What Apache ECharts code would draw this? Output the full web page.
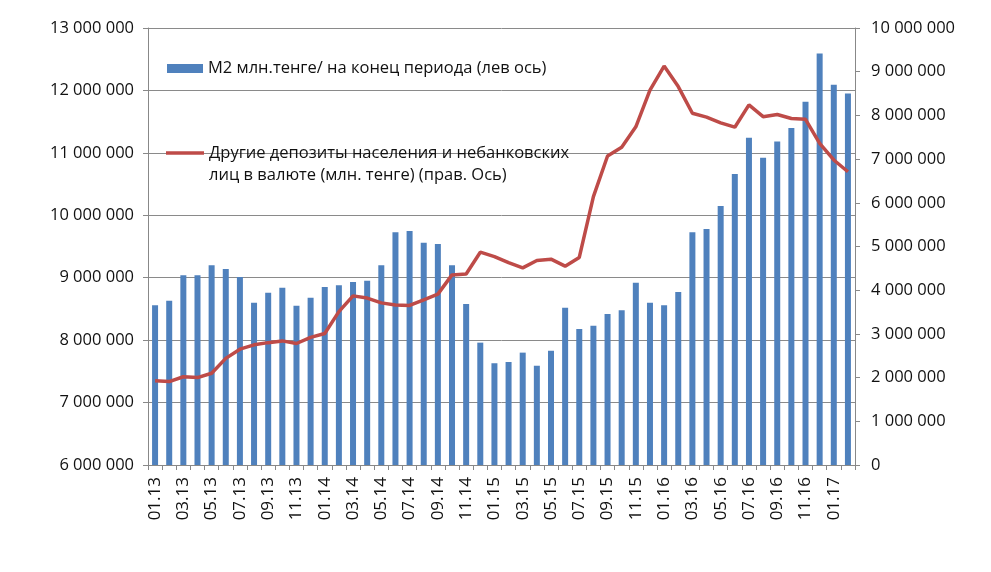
<!DOCTYPE html>
<html>
<head>
<meta charset="utf-8">
<script src="https://cdn.jsdelivr.net/npm/echarts@6/dist/echarts.min.js"></script>
<style>html,body{margin:0;padding:0;background:#fff;}#c{width:991px;height:572px;}</style>
</head>
<body>
<div id="c"></div>
<script>
const categories = ['01.13','02.13','03.13','04.13','05.13','06.13','07.13','08.13','09.13','10.13','11.13','12.13',
  '01.14','02.14','03.14','04.14','05.14','06.14','07.14','08.14','09.14','10.14','11.14','12.14',
  '01.15','02.15','03.15','04.15','05.15','06.15','07.15','08.15','09.15','10.15','11.15','12.15',
  '01.16','02.16','03.16','04.16','05.16','06.16','07.16','08.16','09.16','10.16','11.16','12.16',
  '01.17','02.17'];
const m2Values = [8560000,8630000,9040000,9040000,9200000,9140000,9010000,8600000,8760000,8840000,8550000,8680000,
  8850000,8880000,8930000,8950000,9200000,9730000,9750000,9560000,9540000,9200000,8580000,7960000,
  7630000,7650000,7800000,7590000,7830000,8520000,8180000,8230000,8420000,8480000,8920000,8600000,
  8560000,8770000,9730000,9780000,10150000,10660000,11240000,10920000,11180000,11400000,11820000,12590000,
  12090000,11950000];
const depositValues = [1930000,1910000,2020000,2000000,2100000,2440000,2650000,2750000,2800000,2840000,2780000,2920000,
  3010000,3510000,3870000,3820000,3710000,3660000,3650000,3780000,3910000,4350000,4370000,4870000,
  4770000,4630000,4510000,4680000,4710000,4550000,4750000,6140000,7070000,7270000,7740000,8580000,
  9130000,8660000,8050000,7960000,7830000,7730000,8240000,7970000,8020000,7930000,7910000,7360000,
  6980000,6710000];
const seriesNames = ['M2 млн.тенге/ на конец периода (лев ось)',
  'Другие депозиты населения и небанковских\nлиц в валюте (млн. тенге) (прав. Ось)'];

const FONT = 'Open Sans';
const fmt = v => String(v).replace(/\B(?=(\d{3})+(?!\d))/g, ' ');
const chart = echarts.init(document.getElementById('c'));
chart.setOption({
  backgroundColor: '#fff',
  animation: false,
  textStyle: { fontFamily: FONT },
  grid: { left: 148, right: 136, top: 28, bottom: 107 },
  legend: [
    { left: 167, top: 60, padding: 0, itemWidth: 36, itemHeight: 9, itemGap: 4,
      data: [{ name: seriesNames[0], icon: 'rect' }],
      textStyle: { fontFamily: FONT, fontSize: 16.5, color: '#111' } },
    { left: 166, top: 120, padding: 0, itemWidth: 38, itemHeight: 16,
      data: [{ name: seriesNames[1], icon: 'path://M0,6.2 L38,6.2 L38,9.8 L0,9.8 Z' }],
      formatter: name => ' \n' + name,
      textStyle: { fontFamily: FONT, fontSize: 16.5, color: '#111', lineHeight: 22 } }
  ],
  xAxis: {
    type: 'category', data: categories,
    axisLine: { lineStyle: { color: '#888' } },
    axisTick: { show: true, interval: 0, length: 5, lineStyle: { color: '#888' } },
    axisLabel: { interval: 1, rotate: 90, margin: 12, fontSize: 17, color: '#111', fontFamily: FONT }
  },
  yAxis: [
    { type: 'value', min: 6000000, max: 13000000, interval: 1000000,
      axisLine: { show: true, lineStyle: { color: '#888' } },
      axisTick: { show: true, length: 5, lineStyle: { color: '#888' } },
      splitLine: { lineStyle: { color: '#8a8a8a', width: 1 } },
      axisLabel: { formatter: fmt, fontSize: 16.5, color: '#111', margin: 14, fontFamily: FONT } },
    { type: 'value', min: 0, max: 10000000, interval: 1000000, position: 'right',
      axisLine: { show: true, lineStyle: { color: '#888' } },
      axisTick: { show: true, length: 5, lineStyle: { color: '#888' } },
      splitLine: { show: false },
      axisLabel: { formatter: fmt, fontSize: 16.5, color: '#111', margin: 16, fontFamily: FONT } }
  ],
  series: [
    { name: seriesNames[0], type: 'bar', data: m2Values, yAxisIndex: 0, barWidth: 6,
      itemStyle: { color: '#4F81BD' } },
    { name: seriesNames[1], type: 'line', data: depositValues, yAxisIndex: 1,
      showSymbol: false, symbol: 'none',
      lineStyle: { color: '#BE4B48', width: 3.5 }, itemStyle: { color: '#BE4B48' } }
  ]
});
</script>
</body>
</html>
